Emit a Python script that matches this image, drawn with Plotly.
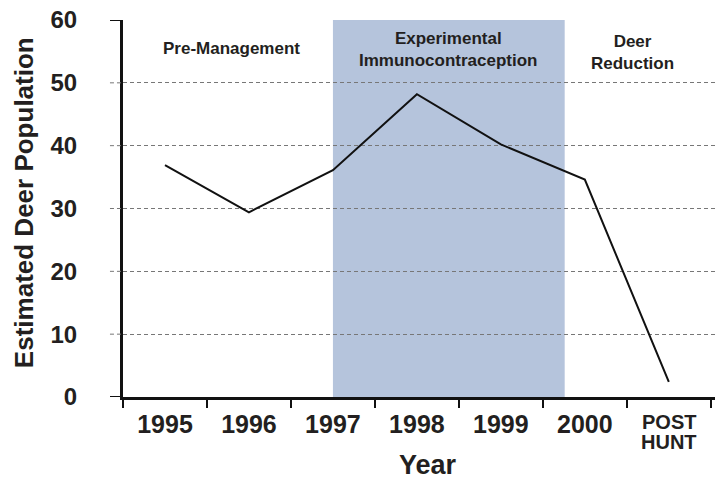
import plotly.graph_objects as go

categories = ["1995", "1996", "1997", "1998", "1999", "2000", "POST HUNT"]
population = [36.9, 29.4, 36.1, 48.2, 40.2, 34.6, 2.4]
tick_labels = ["1995", "1996", "1997", "1998", "1999", "2000", ""]
y_ticks = [0, 10, 20, 30, 40, 50, 60]

phase_labels = [
    (0.79, 55.4, "Pre-Management"),
    (3.38, 55.3, "Experimental<br>Immunocontraception"),
    (5.57, 54.9, "Deer<br>Reduction"),
]
shade_start, shade_end = 2.0, 4.76

FONT = "Liberation Sans, Arial, Helvetica, sans-serif"
TXT = "#231f20"

fig = go.Figure()
fig.add_trace(go.Scatter(
    x=categories, y=population, mode="lines",
    line=dict(color="#111111", width=2), showlegend=False,
))

fig.add_shape(type="rect", xref="x", yref="y", x0=shade_start, x1=shade_end,
              y0=0, y1=60, fillcolor="#b5c4dc", line=dict(width=0), layer="below")

# short outside tick stubs on the y axis (extension of the grid lines)
for v in y_ticks:
    end = v in (y_ticks[0], y_ticks[-1])
    fig.add_shape(type="line", xref="paper", yref="y", x0=-0.022, x1=0, y0=v, y1=v,
                  line=dict(color="#111" if end else "#777", width=2 if end else 1,
                            dash="solid" if end else "4px,3px"))

for x, y, t in phase_labels:
    fig.add_annotation(x=x, y=y, xref="x", yref="y", text=t, showarrow=False,
                       yanchor="middle",
                       font=dict(family=FONT, size=17, color=TXT, weight="bold"))

# two-line last tick label
fig.add_annotation(x=6, y=-0.0655, xref="x", yref="paper", text="POST", showarrow=False,
                   yanchor="middle", font=dict(family=FONT, size=20, color=TXT, weight="bold"))
fig.add_annotation(x=6, y=-0.1186, xref="x", yref="paper", text="HUNT", showarrow=False,
                   yanchor="middle", font=dict(family=FONT, size=20, color=TXT, weight="bold"))

# axis titles
fig.add_annotation(x=3.13, y=-0.18, xref="x", yref="paper", text="Year", showarrow=False,
                   yanchor="middle", font=dict(family=FONT, size=27, color=TXT, weight="bold"))
fig.add_annotation(x=-0.167, y=0.5146, xref="paper", yref="paper",
                   text="Estimated Deer Population", textangle=-90, showarrow=False,
                   xanchor="center", yanchor="middle",
                   font=dict(family=FONT, size=26, color=TXT, weight="bold"))

fig.update_layout(
    width=715, height=479,
    margin=dict(l=123, r=0, t=20, b=82),
    paper_bgcolor="white", plot_bgcolor="white",
    font=dict(family=FONT, color=TXT),
    xaxis=dict(
        type="category", categoryorder="array", categoryarray=categories,
        range=[-0.5, 6.55], automargin=False,
        tickmode="array", tickvals=categories, ticktext=tick_labels,
        tickson="boundaries", ticks="outside", ticklen=8, tickwidth=2, tickcolor="#111",
        showline=True, linewidth=3, linecolor="#111",
        showgrid=False, zeroline=False, ticklabelstandoff=3,
        tickfont=dict(family=FONT, size=25, color=TXT, weight="bold"),
    ),
    yaxis=dict(
        range=[0, 60], tickmode="array", tickvals=y_ticks, automargin=False,
        ticks="outside", ticklen=38, tickwidth=1, tickcolor="rgba(0,0,0,0)",
        showline=True, linewidth=3, linecolor="#111",
        showgrid=True, gridcolor="#777", gridwidth=1, griddash="4px,3px",
        zeroline=False,
        tickfont=dict(family=FONT, size=24, color=TXT, weight="bold"),
    ),
)

fig.write_html("out.html", config={"displayModeBar": False},
               post_script="document.body.style.margin='0';")
